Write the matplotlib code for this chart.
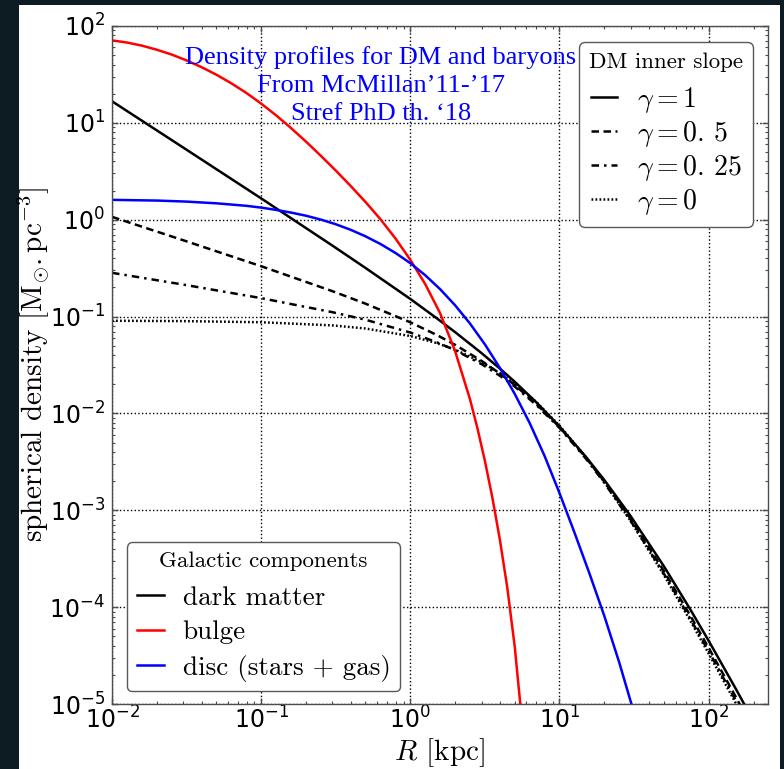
import matplotlib
matplotlib.use("Agg")
import matplotlib.pyplot as plt
from matplotlib.lines import Line2D
from matplotlib.patches import Rectangle

# ---------------- data ----------------
# dark-matter profiles for four inner slopes gamma (R in kpc, rho in Msun/pc^3)
R_dm = [0.01, 0.03, 0.1, 0.3, 0.5, 1, 1.5, 2, 3, 4, 5, 7, 10, 15, 20, 30, 50, 75, 100, 150, 200]
rho_dm_g1 = [16.7, 5.56, 1.66, 0.541, 0.318, 0.152, 0.0963, 0.0689, 0.0420, 0.0289, 0.0213,
             0.0130, 0.00734, 0.00358, 0.00205, 8.71e-4, 2.66e-4, 9.58e-5, 4.50e-5, 1.49e-5, 6.67e-6]
rho_dm_g05 = [1.07, 0.614, 0.331, 0.183, 0.136, 0.0872, 0.0647, 0.0510, 0.0349, 0.0257, 0.0197,
              0.0125, 0.00723, 0.00351, 0.00198, 8.15e-4, 2.37e-4, 8.27e-5, 3.80e-5, 1.23e-5, 5.44e-6]
rho_dm_g025 = [0.283, 0.214, 0.155, 0.111, 0.0928, 0.0684, 0.0544, 0.0449, 0.0323, 0.0244, 0.0190,
               0.0122, 0.00709, 0.00343, 0.00192, 7.79e-4, 2.23e-4, 7.67e-5, 3.51e-5, 1.13e-5, 4.96e-6]
rho_dm_g0 = [0.0905, 0.0898, 0.0874, 0.0811, 0.0753, 0.0630, 0.0533, 0.0455, 0.0339, 0.0259, 0.0203,
             0.0131, 0.00748, 0.00355, 0.00195, 7.75e-4, 2.16e-4, 7.34e-5, 3.32e-5, 1.06e-5, 4.63e-6]

# bulge
R_bulge = [0.01, 0.01259, 0.01585, 0.01995, 0.02512, 0.03162, 0.03981, 0.05012, 0.0631, 0.07943,
           0.1, 0.1259, 0.1585, 0.1995, 0.2512, 0.3162, 0.3981, 0.5012, 0.631, 0.7943,
           1.0, 1.259, 1.585, 1.995, 2.512, 2.818, 3.162, 3.548, 3.981, 4.467, 5.012, 5.495, 5.888]
rho_bulge = [71.0, 67.5, 62.7, 56.9, 50.7, 44.1, 37.6, 31.4, 25.6, 20.4,
             15.8, 11.96, 8.84, 6.41, 4.57, 3.22, 2.23, 1.52, 1.01, 0.641,
             0.385, 0.216, 0.108, 0.0441, 0.0140, 7.02e-3, 3.23e-3, 1.35e-3, 5.01e-4, 1.59e-4,
             3.90e-5, 9.04e-6, 2.28e-6]

# disc (stars + gas)
R_disc = [0.01, 0.01995, 0.03162, 0.05012, 0.07943, 0.1, 0.1259, 0.1585, 0.1995, 0.2512, 0.3162,
          0.3981, 0.5012, 0.631, 0.7943, 1.0, 1.259, 1.585, 1.995, 2.512, 3.162, 3.981, 5.012,
          6.31, 7.943, 10.0, 12.59, 15.85, 19.95, 25.12, 31.62, 35.48]
rho_disc = [1.603, 1.577, 1.538, 1.477, 1.392, 1.333, 1.263, 1.185, 1.100, 1.003, 0.898,
            0.787, 0.673, 0.561, 0.454, 0.356, 0.267, 0.1915, 0.1309, 0.0847, 0.0516, 0.02956,
            0.01591, 7.96e-3, 3.64e-3, 1.506e-3, 5.91e-4, 2.244e-4, 8.16e-5, 2.70e-5, 8.08e-6,
            4.32e-6]

gamma_labels = [r'$\gamma=1$', r'$\gamma=0.\,5$', r'$\gamma=0.\,25$', r'$\gamma=0$']
component_labels = ['dark matter', 'bulge', 'disc (stars + gas)']
note_lines = ['Density profiles for DM and baryons', 'From McMillan\u201911-\u201917',
              'Stref PhD th. \u201818']

# ---------------- style ----------------
LW = 1.8
ls_g1 = '-'
ls_g05 = (0, (3.0, 1.8))
ls_g025 = (0, (3.0, 2.0, 1.0, 2.0))
ls_g0 = (0, (0.7, 0.9))
serif = 'cmr10'

fig = plt.figure(figsize=(7.84, 7.69), dpi=100, facecolor='#0d1b23')
fig.patches.append(Rectangle((0.0242, 0.0), 0.9707, 0.9935, transform=fig.transFigure,
                             facecolor='white', edgecolor='none', zorder=-5))
ax = fig.add_axes([0.1429, 0.0845, 0.8367, 0.8817])

ax.plot(R_dm, rho_dm_g1, color='k', lw=LW, ls=ls_g1)
ax.plot(R_dm, rho_dm_g05, color='k', lw=LW, ls=ls_g05)
ax.plot(R_dm, rho_dm_g025, color='k', lw=LW, ls=ls_g025)
ax.plot(R_dm, rho_dm_g0, color='k', lw=LW, ls=ls_g0)
ax.plot(R_bulge, rho_bulge, color='#ff0000', lw=LW)
ax.plot(R_disc, rho_disc, color='#0000ff', lw=LW)

ax.set_xscale('log')
ax.set_yscale('log')
ax.set_xlim(0.01, 250)
ax.set_ylim(1e-5, 1e2)

ax.grid(True, which='major', ls=':', color='k', lw=1.0)
ax.tick_params(which='both', direction='in', top=True, right=True, color='0.3')
ax.tick_params(which='major', length=4.5, width=1, labelsize=17)
ax.tick_params(which='minor', length=2.5, width=0.8)
ax.tick_params(axis='x', which='major', pad=2)
ax.tick_params(axis='y', which='major', pad=5)
for s in ax.spines.values():
    s.set_color('0.3')
    s.set_linewidth(1.0)

ax.set_xlabel('$R$ [kpc]', fontsize=21, family=serif, math_fontfamily='cm', va='center')
ax.xaxis.set_label_coords(0.5, -0.071)
ax.set_ylabel(r'spherical density $[\mathrm{M}_{\odot}.\mathrm{pc}^{-3}]$', fontsize=21,
              family=serif, math_fontfamily='cm', va='center')
ax.yaxis.set_label_coords(-0.1204, 0.5)

ax.text(0.41, 0.912, '\n'.join(note_lines), transform=ax.transAxes, color='#0000ff',
        family='Liberation Serif', fontsize=19, ha='center', va='center',
        multialignment='center', linespacing=1.36)

# legend: DM inner slope
dm_handles = [Line2D([], [], color='k', lw=LW, ls=s) for s in (ls_g1, ls_g05, ls_g025, ls_g0)]
leg1 = ax.legend(dm_handles, gamma_labels, title='DM inner slope', loc='upper right',
                 bbox_to_anchor=(0.977, 0.976), borderaxespad=0, fontsize=20,
                 handlelength=0.95, handletextpad=0.7, labelspacing=0.15, borderpad=0.35,
                 fancybox=True, framealpha=1, edgecolor='0.35')
leg1.get_title().set_fontfamily(serif)
leg1.get_title().set_fontsize(16.5)
for t in leg1.get_texts():
    t.set_math_fontfamily('cm')
leg1.get_frame().set_linewidth(1.0)
leg1._legend_box.sep = 9.5
ax.add_artist(leg1)

# legend: galactic components
comp_handles = [Line2D([], [], color=c, lw=LW) for c in ('k', '#ff0000', '#0000ff')]
leg2 = ax.legend(comp_handles, component_labels, title='Galactic components', loc='lower left',
                 bbox_to_anchor=(0.0229, 0.0192), borderaxespad=0,
                 prop={'family': serif, 'size': 19.5},
                 handlelength=1.0, handletextpad=0.7, labelspacing=0.385, borderpad=0.35,
                 fancybox=True, framealpha=1, edgecolor='0.35')
leg2.get_title().set_fontfamily(serif)
leg2.get_title().set_fontsize(16.5)
leg2.get_frame().set_linewidth(1.0)
leg2._legend_box.sep = 10.5

fig.savefig('out.png', dpi=100, facecolor=fig.get_facecolor())
